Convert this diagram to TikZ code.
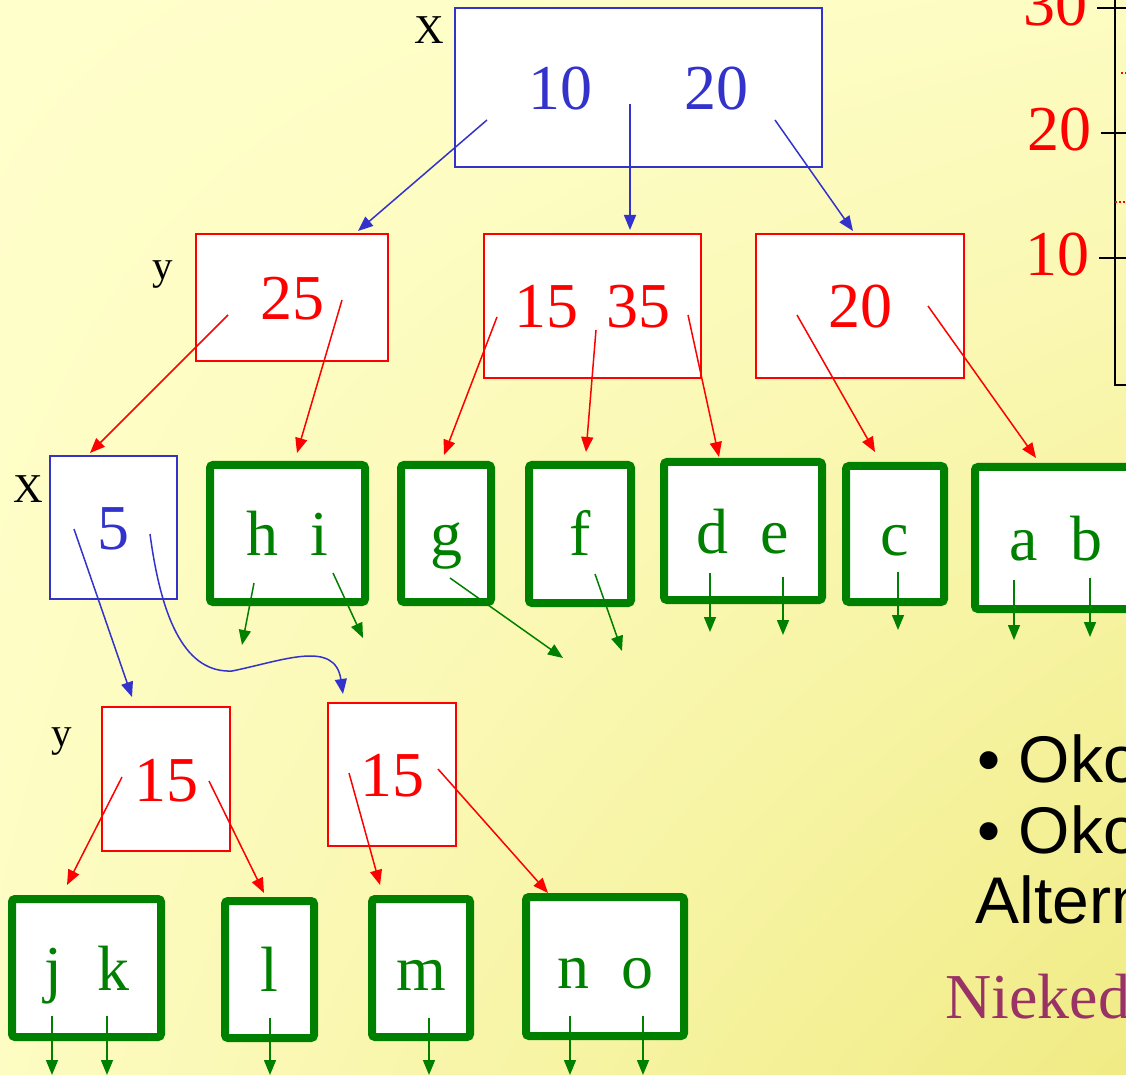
\documentclass[tikz,border=0pt]{standalone}
\usepackage{fontspec}
\setmainfont{Liberation Serif}
\newfontfamily\arialfont{Liberation Sans}
\usepackage{tikz}
\usetikzlibrary{arrows.meta,shadings}
\definecolor{keyblue}{RGB}{51,51,204}
\definecolor{leafgreen}{RGB}{0,128,0}
\definecolor{noteplum}{RGB}{153,51,102}
\definecolor{bgpale}{RGB}{255,255,204}
\definecolor{bgmid}{RGB}{253,252,194}
\definecolor{bgdeep}{RGB}{240,235,132}

\begin{document}
\begin{tikzpicture}[x=0.5pt,y=-0.5pt,
    keybox/.style={draw=#1,line width=1pt,fill=white,inner sep=0pt,text=#1,
      font=\fontsize{32}{38}\selectfont,text height=22pt,text depth=0pt},
    leafbox/.style={draw=leafgreen,line width=4pt,rounded corners=1.5pt,fill=white,inner sep=0pt,
      text=leafgreen,font=\fontsize{32}{38}\selectfont,text height=22pt,text depth=0pt},
    tag/.style={inner sep=0pt,font=\fontsize{20.5}{24}\selectfont},
    ptr/.style={draw=#1,line width=0.75pt,-{Triangle[length=7.5pt,width=6pt]}}]
                        \clip (0,0) rectangle (1126,1075);
                        \shade[upper left=bgpale,upper right=bgmid,lower left=bgmid,lower right=bgdeep]
                            (0,0) rectangle (1126,1075);
                        % inner nodes
                        \node[keybox=keyblue,minimum width=183.5pt,minimum height=79.5pt] (xroot) at (638.5,87.5) {10\hspace{1.45em}20};
                        \node[keybox=red,minimum width=96pt,minimum height=63.5pt] (ya) at (292,297.5) {25};
                        \node[keybox=red,minimum width=108.5pt,minimum height=72pt] (yb) at (592.5,306) {15\hspace{0.45em}35};
                        \node[keybox=red,minimum width=104pt,minimum height=72pt] (yc) at (860,306) {20};
                        \node[keybox=keyblue,minimum width=63.5pt,minimum height=71.5pt] (xleft) at (113.5,527.5) {5};
                        \node[keybox=red,minimum width=64pt,minimum height=72pt] (yd) at (166,779) {15};
                        \node[keybox=red,minimum width=64pt,minimum height=71.5pt] (ye) at (392,774.5) {15};
                        \node[tag] (rootmark) at (429,30.5) {X};
                        \node[tag] (leftmark) at (28,489) {X};
                        \node[tag] (ymarka) at (163,275) {y};
                        \node[tag] (ymarkb) at (62,742) {y};
                        % leaves
                        \foreach \n/\px/\py/\w/\h/\t in {hi/287.5/533.5/77.5/68.5/{h\hspace{0.5em}i}, g/446/533.5/45/68.5/g,
                            f/580/534/51/69/f, de/743/531/79/69/{d\hspace{0.5em}e}, c/895/534/49/68/c,
                            ab/1056/538/81/71/{a\hspace{0.5em}b}, jk/86.5/968/74.5/69/{j\hspace{0.55em}k},
                            l/269.5/969.5/44.5/68.5/l, m/421/968/49/69/m, no/605/966.5/79/69.5/{n\hspace{0.5em}o}} {%
                            \node[leafbox,minimum width=\w pt,minimum height=\h pt] (\n) at (\px,\py) {\t};
                        }
                        % pointers between the nodes
                        \foreach \a/\ax/\ay/\b/\bx/\by/\col in {xroot/-151.5/32.5/ya/66/-2/keyblue,
                            xroot/-8.5/16.5/yb/37.5/-3/keyblue, xroot/136.5/32.5/yc/-7/-2/keyblue,
                            ya/-64/17.5/xleft/-23.5/-2/red, ya/50/2.5/hi/9.5/-8/red,
                            yb/-95.5/11/g/-2/-6/red, yb/3.5/24/f/6/-9/red, yb/95.5/9/de/-24/-1/red,
                            yc/-63/9/c/-20/-10/red, yc/68/0/ab/-20/-5/red,
                            xleft/-39.5/1.5/yd/-34/-9/keyblue,
                            yd/-44/-2/jk/-19.5/-10/red, yd/43/2/l/-5.5/-4/red,
                            ye/-43/-1.5/m/-41/-10/red, ye/46/-5.5/no/-57/0/red} {%
                            \draw[ptr=\col] ([shift={(\ax,\ay)}]\a.center) -- ([shift={(\bx,\by)}]\b.north);
                        }
                        \coordinate (dip) at (232,671);
                        \draw[ptr=keyblue] ([shift={(36.5,6.5)}]xleft.center) .. controls +(12,90) and +(-45,2) .. (dip)
                            .. controls +(50,-10) and +(-8,-55) .. ([shift={(-49,-8)}]ye.north);
                        % pointers out of the leaves
                        \foreach \n/\dx/\dy/\ex/\ey in {hi/-33.5/49.5/-12/62, hi/45.5/39.5/30/65, g/4/44.5/113/80,
                            f/15/40/27/77, de/-33/42/0/59, de/40/46/0/58, c/3/38/0/58, ab/-42/42/0/60, ab/34/40/0/59,
                            jk/-34.5/48/0/59, jk/20.5/48/0/59, l/0.5/48.5/0/57, m/8/50/0/57,
                            no/-35/49.5/0/59, no/38/49.5/0/59} {%
                            \draw[ptr=leafgreen] ([shift={(\dx,\dy)}]\n.center) -- ++(\ex,\ey);
                        }
                        % chart at the edge
                        \draw[line width=1pt] (1115,-5) -- (1115,385) -- (1130,385);
                        \foreach \yv/\tx/\lab in {8/1097/30, 133/1101/20, 258/1099/10} {%
                            \draw[line width=1pt] (\tx,\yv) -- (1130,\yv);
                            \node[red,anchor=east,inner sep=0pt,font=\fontsize{32}{38}\selectfont] (scale\lab) at (\tx-9,\yv-3) {\lab};
                        }
                        \draw[red,line width=1pt,densely dotted] (1115,202) -- (1130,202);
                        \draw[red,line width=1pt,densely dotted] (1121,73) -- (1130,73);
                        % notes at the edge
                        \node[anchor=base west,inner sep=0pt,font=\arialfont\fontsize{33}{40}\selectfont] (notea) at (977,782) {\textbullet\ Oko};
                        \node[anchor=base west,inner sep=0pt,font=\arialfont\fontsize{33}{40}\selectfont] (noteb) at (977,853) {\textbullet\ Oko};
                        \node[anchor=base west,inner sep=0pt,font=\arialfont\fontsize{33}{40}\selectfont] (notec) at (975,923) {Altern};
                        \node[anchor=base west,inner sep=0pt,text=noteplum,font=\fontsize{32}{38}\selectfont] (noted) at (945,1018) {Nieked};
                    \end{tikzpicture}
\end{document}
